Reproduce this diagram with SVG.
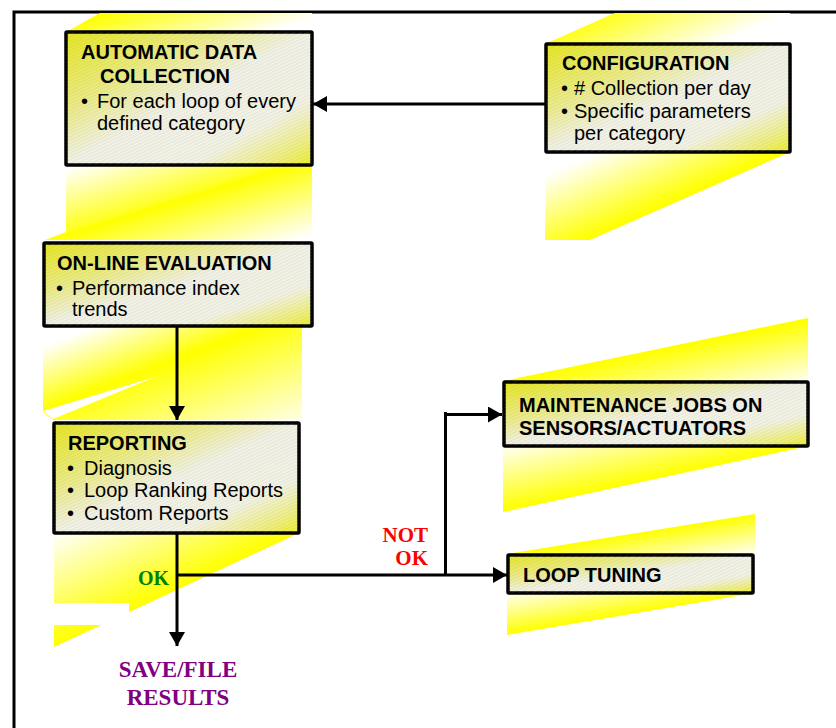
<svg xmlns="http://www.w3.org/2000/svg" width="836" height="728" viewBox="0 0 836 728">
<defs>
<style>
.box{stroke:#000;stroke-width:3.5;fill:url(#boxg)}
.hat{fill:url(#hatch);stroke:none}
.h{font-family:"Liberation Sans",Arial,sans-serif;font-weight:bold;font-size:20px;fill:#000}
.t{font-family:"Liberation Sans",Arial,sans-serif;font-size:20px;fill:#000}
.lab{font-family:"Liberation Serif","Times New Roman",serif;font-weight:bold}
.ln{fill:none;stroke:#000;stroke-width:3}
</style>
<linearGradient id="boxg" x1="0" y1="0" x2="1" y2="1">
<stop offset="0" stop-color="#e6e61e"/>
<stop offset="0.3" stop-color="#ebeb86"/>
<stop offset="0.5" stop-color="#f1f1e6"/>
<stop offset="0.75" stop-color="#f2f2e4"/>
<stop offset="0.92" stop-color="#eeee72"/>
<stop offset="1" stop-color="#eeee20"/>
</linearGradient>
<pattern id="hatch" width="3" height="3" patternUnits="userSpaceOnUse" patternTransform="rotate(-25)">
<line x1="0" y1="0.5" x2="3" y2="0.5" stroke="#9a9a9a" stroke-width="0.7" stroke-opacity="0.2"/>
</pattern>
<linearGradient id="b1" gradientUnits="userSpaceOnUse" x1="12.9" y1="42.1" x2="93.2" y2="303">
<stop offset="0" stop-color="#ffff00"/>
<stop offset="0.24" stop-color="#ffffff"/>
<stop offset="0.5" stop-color="#ffffff"/>
<stop offset="0.72" stop-color="#ffff20"/>
<stop offset="0.73" stop-color="#ffff00"/>
<stop offset="1" stop-color="#ffffff"/>
</linearGradient>
<linearGradient id="b2" gradientUnits="userSpaceOnUse" x1="100.75" y1="228.75" x2="185.4" y2="420.9">
<stop offset="0" stop-color="#ffff00"/>
<stop offset="0.38" stop-color="#ffffff"/>
<stop offset="0.62" stop-color="#ffffff"/>
<stop offset="0.98" stop-color="#ffff00"/>
<stop offset="1" stop-color="#ffff00"/>
</linearGradient>
<linearGradient id="b3" gradientUnits="userSpaceOnUse" x1="118.8" y1="307.9" x2="181.8" y2="471.2">
<stop offset="0.05" stop-color="#ffffff"/>
<stop offset="0.39" stop-color="#ffff00"/>
<stop offset="1" stop-color="#fffff0"/>
</linearGradient>
<linearGradient id="b4" gradientUnits="userSpaceOnUse" x1="209.5" y1="454" x2="256.4" y2="555.7">
<stop offset="0.06" stop-color="#ffffff"/>
<stop offset="0.97" stop-color="#ffff00"/>
</linearGradient>
<linearGradient id="b5t" gradientUnits="userSpaceOnUse" x1="95.1" y1="460.1" x2="109.2" y2="528.7">
<stop offset="0.08" stop-color="#ffff00"/>
<stop offset="1" stop-color="#ffffff"/>
</linearGradient>
<linearGradient id="b5b" gradientUnits="userSpaceOnUse" x1="114.2" y1="527.8" x2="129" y2="596.2">
<stop offset="0" stop-color="#ffffff"/>
<stop offset="0.95" stop-color="#ffff00"/>
</linearGradient>
<linearGradient id="b6t" gradientUnits="userSpaceOnUse" x1="99.4" y1="616.9" x2="106.2" y2="659.3">
<stop offset="0.05" stop-color="#ffff00"/>
<stop offset="1" stop-color="#ffffff"/>
</linearGradient>
<linearGradient id="b6b" gradientUnits="userSpaceOnUse" x1="110.9" y1="655.7" x2="118.7" y2="702">
<stop offset="0.05" stop-color="#ffffff"/>
<stop offset="0.97" stop-color="#ffff00"/>
</linearGradient>
<marker id="ah" markerUnits="userSpaceOnUse" markerWidth="15" markerHeight="16" refX="14" refY="8" orient="auto">
<path d="M0,0 L14,8 L0,16 z" fill="#000"/>
</marker>
</defs>
<rect width="836" height="728" fill="#fff"/>
<rect x="14" y="12" width="900" height="900" fill="none" stroke="#000" stroke-width="3"/>

<g id="beams">
<polygon points="66,32 100,13 312,13 312,240 45,240 66,232" fill="url(#b1)"/>
<polygon points="547,43 615,13 790,13 790,152 590,240 545,240" fill="url(#b2)"/>
<polygon points="43,326 302,326 302,420 53,420 43,412" fill="url(#b3)"/>
<polygon points="43,411 155,377 53,419" fill="#fff"/>
<polygon points="54,533 299,533 54,647" fill="url(#b4)"/>
<rect x="54" y="603" width="75" height="22" fill="#fff"/>
<polygon points="503,381 808,318 808,381" fill="url(#b5t)"/>
<polygon points="503,446 808,446 503,512" fill="url(#b5b)"/>
<polygon points="507,554 755,514 755,554" fill="url(#b6t)"/>
<polygon points="507,593 755,593 507,635" fill="url(#b6b)"/>
</g>

<g id="connectors">
<path class="ln" d="M545,104 H313" marker-end="url(#ah)"/>
<path class="ln" d="M177,326 V420" marker-end="url(#ah)"/>
<path class="ln" d="M177,533 V646" marker-end="url(#ah)"/>
<path class="ln" d="M177,575 H507" marker-end="url(#ah)"/>
<path class="ln" d="M445.5,575 V412"/>
<path class="ln" d="M444,414.5 H502" stroke-width="4.5" marker-end="url(#ah)"/>
</g>

<g id="n-auto">
<rect class="box" x="66" y="32" width="246" height="133" rx="1"/>
<rect class="hat" x="66" y="32" width="246" height="133"/>
<text class="h" x="81" y="59">AUTOMATIC DATA</text>
<text class="h" x="100" y="83">COLLECTION</text>
<text class="t" x="81" y="108">•</text>
<text class="t" x="97" y="108">For each loop of every</text>
<text class="t" x="97" y="130">defined category</text>
</g>

<g id="n-config">
<rect class="box" x="546" y="44" width="244" height="108" rx="1"/>
<rect class="hat" x="546" y="44" width="244" height="108"/>
<text class="h" x="562" y="70">CONFIGURATION</text>
<text class="t" x="561" y="95">•</text>
<text class="t" x="574" y="95"># Collection per day</text>
<text class="t" x="561" y="118">•</text>
<text class="t" x="574" y="118">Specific parameters</text>
<text class="t" x="574" y="140">per category</text>
</g>

<g id="n-online">
<rect class="box" x="44" y="243" width="268" height="83" rx="1"/>
<rect class="hat" x="44" y="243" width="268" height="83"/>
<text class="h" x="57" y="270">ON-LINE EVALUATION</text>
<text class="t" x="56" y="295">•</text>
<text class="t" x="72" y="295">Performance index</text>
<text class="t" x="72" y="316">trends</text>
</g>

<g id="n-reporting">
<rect class="box" x="54" y="423" width="245" height="110" rx="1"/>
<rect class="hat" x="54" y="423" width="245" height="110"/>
<text class="h" x="68" y="450">REPORTING</text>
<text class="t" x="67" y="475">•</text>
<text class="t" x="84" y="475">Diagnosis</text>
<text class="t" x="67" y="497">•</text>
<text class="t" x="84" y="497">Loop Ranking Reports</text>
<text class="t" x="67" y="520">•</text>
<text class="t" x="84" y="520">Custom Reports</text>
</g>

<g id="n-maint">
<rect class="box" x="504" y="382" width="304" height="64" rx="1"/>
<rect class="hat" x="504" y="382" width="304" height="64"/>
<text class="h" x="519" y="412">MAINTENANCE JOBS ON</text>
<text class="h" x="519" y="435">SENSORS/ACTUATORS</text>
</g>

<g id="n-tuning">
<rect class="box" x="508" y="555" width="245" height="38" rx="1"/>
<rect class="hat" x="508" y="555" width="245" height="38"/>
<text class="h" x="523" y="582">LOOP TUNING</text>
</g>

<g id="labels">
<text class="lab" x="169" y="585" font-size="20" fill="#008000" text-anchor="end">OK</text>
<text class="lab" x="428" y="542" font-size="21" fill="#ff0000" text-anchor="end">NOT</text>
<text class="lab" x="428" y="565" font-size="21" fill="#ff0000" text-anchor="end">OK</text>
</g>
<g id="n-save">
<text class="lab" x="178" y="677" font-size="23" fill="#800080" text-anchor="middle">SAVE/FILE</text>
<text class="lab" x="178" y="705" font-size="23" fill="#800080" text-anchor="middle">RESULTS</text>
</g>
</svg>
